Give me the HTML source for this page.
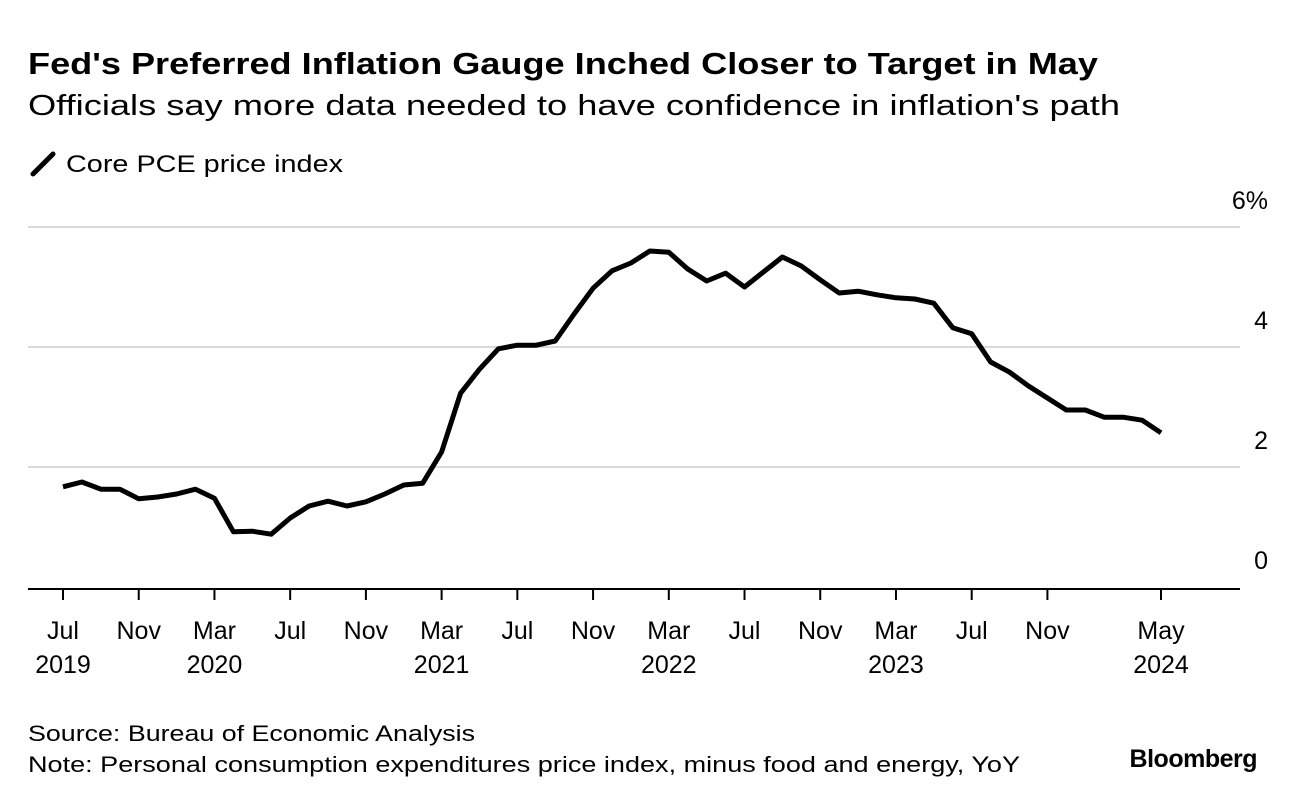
<!DOCTYPE html>
<html><head><meta charset="utf-8">
<style>
body{margin:0;background:#fff;width:1296px;height:802px;overflow:hidden;font-family:"Liberation Sans",sans-serif;}
</style></head>
<body>
<svg width="1296" height="802" xmlns="http://www.w3.org/2000/svg" font-family="Liberation Sans, sans-serif">
<text x="28" y="74" font-size="31" font-weight="bold" fill="#000" textLength="1070" lengthAdjust="spacingAndGlyphs">Fed's Preferred Inflation Gauge Inched Closer to Target in May</text>
<text x="28" y="115" font-size="29" fill="#000" textLength="1092" lengthAdjust="spacingAndGlyphs">Officials say more data needed to have confidence in inflation's path</text>
<g>
<line x1="33" y1="174" x2="53" y2="154" stroke="#000" stroke-width="5" stroke-linecap="round"/>
<text x="66" y="172" font-size="24" textLength="277" lengthAdjust="spacingAndGlyphs">Core PCE price index</text>
</g>
<g id="grid"></g>
<g id="yticks"></g>
<g id="xaxis"></g>
<path id="line" fill="none" stroke="#000" stroke-width="5" stroke-linejoin="round"/>
<text x="28" y="741" font-size="22" textLength="447" lengthAdjust="spacingAndGlyphs">Source: Bureau of Economic Analysis</text>
<text x="28" y="772" font-size="22" textLength="992" lengthAdjust="spacingAndGlyphs">Note: Personal consumption expenditures price index, minus food and energy, YoY</text>
<text x="1257" y="767" font-size="25" font-weight="bold" text-anchor="end" letter-spacing="-0.5">Bloomberg</text>
</svg>
<script>
const values=[1.67,1.75,1.63,1.63,1.47,1.5,1.55,1.63,1.48,0.92,0.93,0.88,1.15,1.35,1.43,1.35,1.42,1.55,1.7,1.73,2.25,3.23,3.63,3.97,4.03,4.03,4.1,4.55,4.98,5.27,5.4,5.6,5.58,5.3,5.1,5.23,5.0,5.25,5.5,5.35,5.12,4.9,4.93,4.87,4.82,4.8,4.73,4.32,4.22,3.75,3.58,3.35,3.15,2.95,2.95,2.83,2.83,2.78,2.57];
const yTicks=[0,2,4,6];
const yTickLabels=["0","2","4","6%"];
const xTickMonths=[0,4,8,12,16,20,24,28,32,36,40,44,48,52,58];
const xTickLabels=["Jul","Nov","Mar","Jul","Nov","Mar","Jul","Nov","Mar","Jul","Nov","Mar","Jul","Nov","May"];
const xYearLabels=["2019","","2020","","","2021","","","2022","","","2023","","","2024"];
const ns="http://www.w3.org/2000/svg";
const X=i=>63+i*(1161-63)/58;
const Y=v=>587-v*60;
function mk(t,a,p){const e=document.createElementNS(ns,t);for(const k in a)e.setAttribute(k,a[k]);p.appendChild(e);return e;}
const grid=document.getElementById('grid'),yt=document.getElementById('yticks'),xa=document.getElementById('xaxis');
yTicks.forEach((v,i)=>{
 if(v>0){const l=mk('line',{x1:28,x2:1240,y1:Y(v),y2:Y(v),stroke:'#d9d9d9','stroke-width':2},grid);
 
 }
 const t=mk('text',{x:1268,y:Y(v)-18,'font-size':25,'text-anchor':'end'},yt);t.textContent=yTickLabels[i];
 
 
});
const ax=mk('line',{x1:28,x2:1240,y1:589,y2:589,stroke:'#000','stroke-width':2},xa);


xTickMonths.forEach((m,i)=>{
 const tk=mk('line',{x1:X(m),x2:X(m),y1:589,y2:600,stroke:'#000','stroke-width':2},xa);
 
 
 const t=mk('text',{x:X(m),y:639,'font-size':25,'text-anchor':'middle'},xa);t.textContent=xTickLabels[i];
 
 
 if(xYearLabels[i]){const y=mk('text',{x:X(m),y:673,'font-size':25,'text-anchor':'middle'},xa);y.textContent=xYearLabels[i];
 
 }
});
document.getElementById('line').setAttribute('d',values.map((v,i)=>(i?'L':'M')+X(i).toFixed(1)+','+Y(v).toFixed(1)).join(''));
</script>
</body></html>
